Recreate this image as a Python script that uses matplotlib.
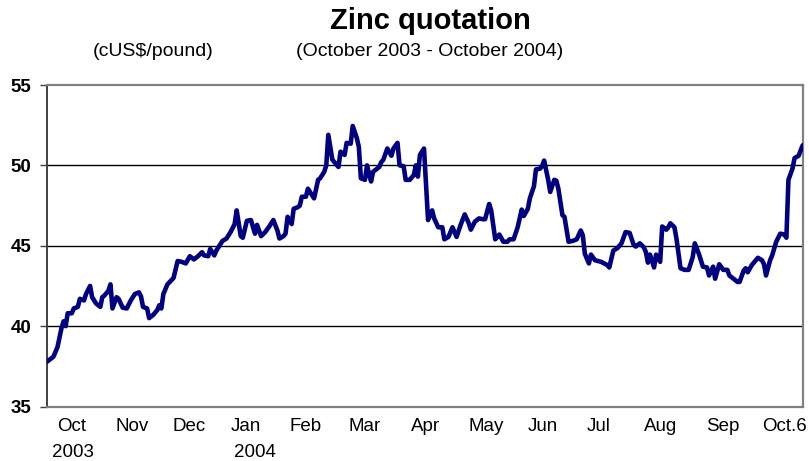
import matplotlib
matplotlib.use("Agg")
import matplotlib.pyplot as plt
from matplotlib.transforms import blended_transform_factory

plt.rcParams['font.family'] = ['Liberation Sans', 'DejaVu Sans']

# Zinc price, cUS$/pound; day = days since 1 Oct 2003
day = [0, 3, 5, 7, 8, 9, 10, 12, 13, 15, 16, 18, 19, 21, 22, 24, 26, 27, 28, 30,
       31, 32, 34, 35, 37, 39, 41, 43, 45, 46, 47, 49, 50, 52, 54, 55, 56, 57, 59, 62,
       64, 66, 68, 70, 72, 74, 76, 77, 79, 80, 82, 83, 86, 88, 90, 92, 93, 95, 96, 98,
       100, 102, 103, 105, 107, 109, 111, 113, 114, 116, 117, 118, 120, 121, 123, 124, 125, 127, 128, 129,
       131, 133, 134, 136, 137, 138, 140, 141, 143, 144, 146, 147, 149, 150, 152, 153, 154, 156, 157, 159,
       160, 163, 164, 165, 167, 169, 170, 172, 173, 175, 176, 178, 180, 181, 182, 183, 185, 187, 189, 190,
       192, 194, 195, 197, 199, 201, 203, 205, 207, 208, 210, 212, 214, 215, 217, 218, 220, 222, 224, 226,
       227, 229, 231, 233, 234, 236, 237, 239, 240, 242, 243, 244, 246, 247, 249, 250, 251, 253, 254, 256,
       258, 260, 262, 263, 264, 266, 267, 269, 272, 275, 276, 278, 280, 282, 284, 286, 288, 289, 291, 293,
       294, 295, 296, 298, 299, 301, 302, 304, 305, 306, 308, 309, 311, 313, 315, 317, 318, 320, 322, 324,
       325, 327, 328, 330, 332, 334, 335, 337, 339, 340, 342, 343, 344, 346, 349, 351, 352, 353, 355, 356,
       358, 360, 362, 363, 364, 366, 367, 369, 371]

price = [37.8, 38.1, 38.7, 39.9, 40.3, 40.0, 40.8, 40.8, 41.1, 41.2, 41.7, 41.6, 42.0, 42.5, 41.8, 41.4, 41.2, 41.8, 41.9, 42.2,
         42.6, 41.1, 41.8, 41.7, 41.15, 41.1, 41.6, 42.0, 42.1, 41.85, 41.2, 41.1, 40.5, 40.7, 41.0, 41.3, 41.1, 42.0, 42.6, 43.0,
         44.05, 44.0, 43.9, 44.35, 44.15, 44.35, 44.6, 44.4, 44.35, 44.8, 44.4, 44.7, 45.3, 45.45, 45.85, 46.35, 47.2, 45.6, 45.5, 46.55,
         46.6, 45.75, 46.3, 45.6, 45.85, 46.2, 46.6, 45.95, 45.45, 45.6, 45.75, 46.8, 46.35, 47.3, 47.4, 47.5, 48.05, 48.05, 48.55, 48.35,
         47.95, 49.1, 49.2, 49.6, 50.0, 51.9, 50.35, 50.2, 49.9, 50.85, 50.65, 51.4, 51.35, 52.45, 51.7, 51.15, 49.2, 49.1, 50.0, 49.0,
         49.6, 49.9, 50.2, 50.35, 51.05, 50.6, 51.05, 51.4, 50.0, 49.95, 49.1, 49.1, 49.4, 50.0, 49.3, 50.65, 51.05, 46.6, 47.2, 46.7,
         46.15, 46.15, 45.4, 45.55, 46.15, 45.55, 46.3, 46.95, 46.4, 46.0, 46.5, 46.7, 46.65, 46.65, 47.6, 47.2, 45.4, 45.7, 45.25, 45.25,
         45.4, 45.4, 46.15, 47.25, 46.85, 47.3, 47.95, 48.7, 49.75, 49.8, 49.95, 50.3, 49.1, 48.35, 49.1, 49.05, 48.55, 46.9, 46.8, 45.25,
         45.3, 45.4, 45.95, 45.65, 44.5, 43.9, 44.45, 44.1, 44.0, 43.8, 43.65, 44.7, 44.85, 45.15, 45.85, 45.8, 45.05, 44.95, 45.15, 44.9,
         44.6, 43.95, 44.45, 43.65, 44.45, 44.0, 46.2, 46.0, 46.15, 46.4, 46.15, 45.45, 43.6, 43.5, 43.5, 44.3, 45.15, 44.5, 43.7, 43.65,
         43.15, 43.7, 42.95, 43.85, 43.5, 43.5, 43.15, 42.95, 42.75, 42.75, 43.45, 43.6, 43.35, 43.8, 44.25, 44.1, 43.85, 43.15, 44.1, 44.4,
         45.25, 45.75, 45.7, 45.5, 49.1, 49.8, 50.45, 50.6, 51.25]

month_labels = ['Oct', 'Nov', 'Dec', 'Jan', 'Feb', 'Mar', 'Apr', 'May', 'Jun', 'Jul', 'Aug', 'Sep', 'Oct.6']
month_label_day = [12.1, 41.6, 69.6, 97.6, 126.6, 156.0, 186.0, 215.5, 243.5, 271.0, 301.4, 331.8, 362.3]
year_labels = ['2003', '2004']
year_label_day = [12.6, 102.0]
y_ticks = [35, 40, 45, 50, 55]

fig = plt.figure(figsize=(8.09, 4.61), dpi=100)
ax = fig.add_axes([0.0575, 0.1182, 0.9357, 0.6974])

ax.plot(day, price, color='#000080', linewidth=3.3, solid_joinstyle='round',
        solid_capstyle='round', zorder=3)

ax.set_xlim(-0.4, 371.4)
ax.set_ylim(35, 55)

# horizontal gridlines
for v in y_ticks[1:-1]:
    ax.axhline(v, color='black', linewidth=1.0, zorder=1)

ax.set_yticks(y_ticks)
ax.set_yticklabels([str(v) for v in y_ticks], fontweight='bold', fontsize=13.5)
ax.tick_params(axis='y', direction='out', length=5, width=1, color='#404040', pad=6)

ax.set_xticks(month_label_day)
ax.set_xticklabels(month_labels, fontsize=13.5)
ax.tick_params(axis='x', length=0, pad=8)

trans = blended_transform_factory(ax.transData, fig.transFigure)
for lab, d in zip(year_labels, year_label_day):
    ax.text(d, 1 - 452 / 461, lab, transform=trans, ha='center', va='center', fontsize=13.5)

for side in ['top', 'right', 'bottom']:
    ax.spines[side].set_color('#808080')
    ax.spines[side].set_linewidth(1.6)
ax.spines['left'].set_color('#404040')
ax.spines['left'].set_linewidth(1.4)

fig.text(0.5315, 1 - 21 / 461, 'Zinc quotation', ha='center', va='center',
         fontsize=21, fontweight='bold')
fig.text(153 / 809, 1 - 52 / 461, '(cUS$/pound)', ha='center', va='center', fontsize=14)
fig.text(430 / 809, 1 - 52 / 461, '(October 2003 - October 2004)', ha='center', va='center',
         fontsize=14)

fig.savefig('out.png', dpi=100)
